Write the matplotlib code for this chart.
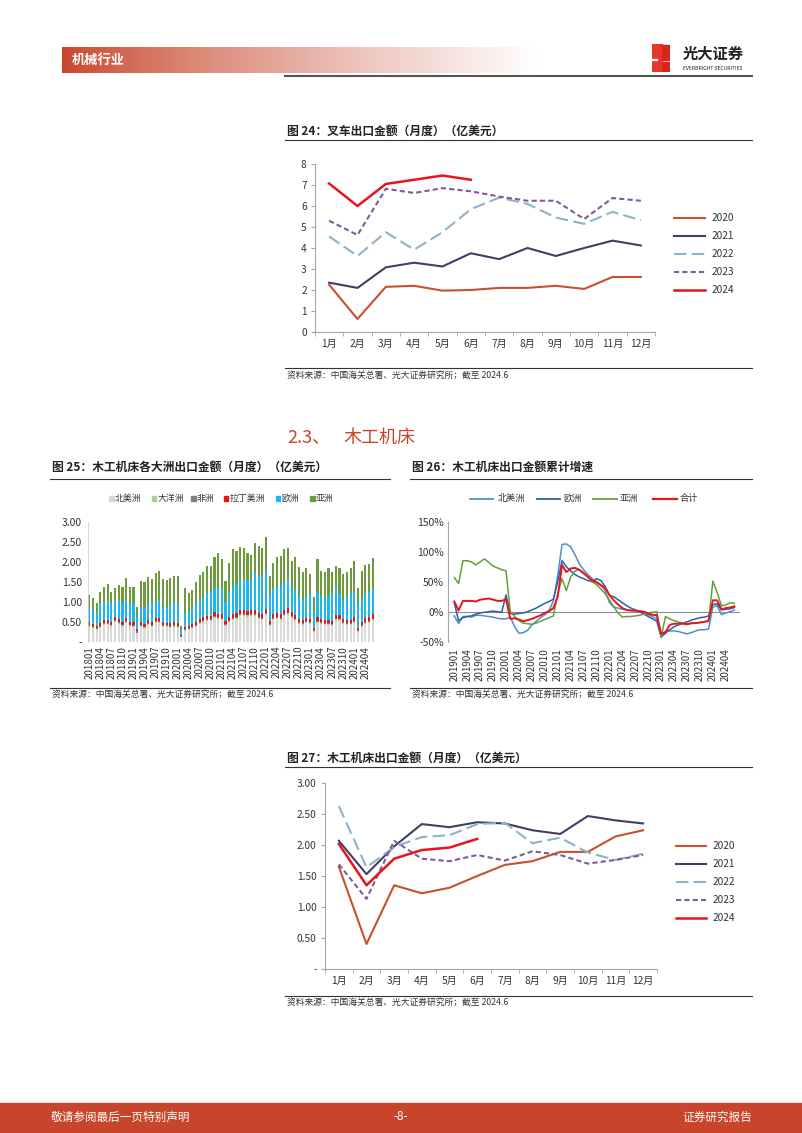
import matplotlib
matplotlib.use('Agg')
import matplotlib.pyplot as plt
from matplotlib.lines import Line2D
from matplotlib.patches import Rectangle
import numpy as np

plt.rcParams['font.family'] = ['Noto Sans CJK SC', 'DejaVu Sans']

# ---------------- data ----------------
months = ['1月', '2月', '3月', '4月', '5月', '6月', '7月', '8月', '9月', '10月', '11月', '12月']
years = ['2020', '2021', '2022', '2023', '2024']

# 图24 叉车出口金额（亿美元）
fork_2020 = [2.25, 0.62, 2.15, 2.20, 1.97, 2.00, 2.10, 2.10, 2.20, 2.05, 2.62, 2.62]
fork_2021 = [2.35, 2.10, 3.08, 3.30, 3.12, 3.75, 3.47, 4.00, 3.62, 4.00, 4.35, 4.12]
fork_2022 = [4.55, 3.62, 4.75, 3.92, 4.75, 5.85, 6.40, 6.10, 5.45, 5.15, 5.72, 5.32]
fork_2023 = [5.30, 4.62, 6.82, 6.62, 6.85, 6.70, 6.45, 6.25, 6.25, 5.38, 6.38, 6.25]
fork_2024 = [7.07, 6.00, 7.05, 7.25, 7.45, 7.25]

# 图27 木工机床出口金额（亿美元）
wood_2020 = [1.65, 0.40, 1.35, 1.22, 1.31, 1.50, 1.68, 1.74, 1.89, 1.89, 2.14, 2.24]
wood_2021 = [2.07, 1.53, 1.98, 2.34, 2.29, 2.37, 2.35, 2.24, 2.18, 2.47, 2.40, 2.35]
wood_2022 = [2.63, 1.64, 1.97, 2.13, 2.16, 2.34, 2.36, 2.03, 2.12, 1.88, 1.76, 1.86]
wood_2023 = [1.69, 1.13, 2.07, 1.78, 1.74, 1.84, 1.75, 1.90, 1.84, 1.70, 1.76, 1.84]
wood_2024 = [2.02, 1.35, 1.78, 1.92, 1.96, 2.10]

# 图25 各大洲出口金额 201801-202406（亿美元）
bar_months = [f'{y}{m:02d}' for y in range(2018, 2025) for m in range(1, 13)][:78]
cont_names = ['北美洲', '大洋洲', '非洲', '拉丁美洲', '欧洲', '亚洲']
north_america = [0.37, 0.33, 0.29, 0.35, 0.42, 0.41, 0.38, 0.49, 0.45, 0.38, 0.47, 0.38,
                 0.37, 0.21, 0.37, 0.33, 0.42, 0.37, 0.46, 0.47, 0.37, 0.36, 0.35, 0.37,
                 0.35, 0.11, 0.27, 0.29, 0.33, 0.37, 0.45, 0.48, 0.51, 0.51, 0.60, 0.56,
                 0.55, 0.39, 0.48, 0.55, 0.57, 0.64, 0.64, 0.63, 0.64, 0.64, 0.57, 0.55,
                 0.66, 0.39, 0.55, 0.57, 0.55, 0.64, 0.68, 0.60, 0.53, 0.44, 0.42, 0.46,
                 0.44, 0.24, 0.47, 0.44, 0.41, 0.41, 0.39, 0.53, 0.53, 0.44, 0.41, 0.41,
                 0.47, 0.24, 0.37, 0.45, 0.47, 0.53]
oceania = [0.03, 0.03, 0.03, 0.03, 0.03, 0.03, 0.03, 0.03, 0.03, 0.03, 0.03, 0.03,
           0.03, 0.02, 0.03, 0.03, 0.03, 0.03, 0.03, 0.03, 0.03, 0.03, 0.03, 0.03,
           0.03, 0.01, 0.03, 0.03, 0.03, 0.03, 0.03, 0.03, 0.03, 0.03, 0.03, 0.03,
           0.03, 0.03, 0.03, 0.03, 0.03, 0.03, 0.03, 0.03, 0.03, 0.03, 0.03, 0.03,
           0.03, 0.03, 0.03, 0.03, 0.03, 0.03, 0.03, 0.03, 0.03, 0.03, 0.03, 0.03,
           0.03, 0.02, 0.03, 0.03, 0.03, 0.03, 0.03, 0.03, 0.03, 0.03, 0.03, 0.03,
           0.03, 0.03, 0.03, 0.03, 0.03, 0.03]
africa = [0.02, 0.02, 0.02, 0.02, 0.02, 0.02, 0.02, 0.02, 0.02, 0.02, 0.02, 0.02,
          0.02, 0.03, 0.02, 0.02, 0.02, 0.02, 0.02, 0.02, 0.02, 0.02, 0.02, 0.02,
          0.02, 0.03, 0.02, 0.02, 0.02, 0.02, 0.02, 0.02, 0.02, 0.02, 0.02, 0.02,
          0.02, 0.02, 0.02, 0.02, 0.02, 0.02, 0.02, 0.02, 0.02, 0.02, 0.02, 0.02,
          0.02, 0.02, 0.02, 0.02, 0.02, 0.02, 0.02, 0.02, 0.02, 0.02, 0.02, 0.02,
          0.02, 0.03, 0.02, 0.02, 0.02, 0.02, 0.02, 0.02, 0.02, 0.02, 0.02, 0.02,
          0.02, 0.02, 0.02, 0.02, 0.02, 0.02]
latin_america = [0.08, 0.07, 0.06, 0.08, 0.08, 0.09, 0.07, 0.08, 0.08, 0.07, 0.08, 0.07,
                 0.08, 0.06, 0.08, 0.07, 0.08, 0.08, 0.09, 0.08, 0.08, 0.07, 0.08, 0.08,
                 0.08, 0.03, 0.06, 0.06, 0.07, 0.08, 0.08, 0.09, 0.09, 0.09, 0.10, 0.09,
                 0.10, 0.08, 0.09, 0.10, 0.10, 0.11, 0.11, 0.10, 0.11, 0.11, 0.10, 0.10,
                 0.11, 0.08, 0.10, 0.10, 0.10, 0.11, 0.12, 0.10, 0.10, 0.09, 0.08, 0.09,
                 0.09, 0.06, 0.10, 0.09, 0.09, 0.09, 0.08, 0.10, 0.10, 0.09, 0.09, 0.09,
                 0.10, 0.06, 0.08, 0.10, 0.10, 0.12]
europe = [0.35, 0.35, 0.32, 0.47, 0.45, 0.47, 0.48, 0.40, 0.47, 0.48, 0.48, 0.42,
          0.45, 0.30, 0.35, 0.40, 0.40, 0.45, 0.40, 0.45, 0.38, 0.37, 0.44, 0.50,
          0.47, 0.12, 0.34, 0.35, 0.37, 0.45, 0.47, 0.48, 0.57, 0.60, 0.60, 0.65,
          0.62, 0.48, 0.63, 0.70, 0.73, 0.75, 0.78, 0.77, 0.75, 0.95, 0.90, 0.95,
          0.96, 0.68, 0.62, 0.63, 0.70, 0.70, 0.70, 0.60, 0.62, 0.57, 0.50, 0.52,
          0.62, 0.40, 0.60, 0.57, 0.57, 0.60, 0.70, 0.67, 0.52, 0.47, 0.60, 0.67,
          0.63, 0.60, 0.55, 0.60, 0.63, 0.65]
asia = [0.32, 0.29, 0.24, 0.31, 0.37, 0.44, 0.28, 0.32, 0.38, 0.39, 0.51, 0.45,
        0.43, 0.26, 0.67, 0.66, 0.68, 0.63, 0.73, 0.72, 0.70, 0.70, 0.68, 0.65,
        0.70, 0.10, 0.63, 0.47, 0.49, 0.55, 0.63, 0.64, 0.67, 0.64, 0.79, 0.89,
        0.75, 0.53, 0.73, 0.94, 0.84, 0.82, 0.77, 0.69, 0.63, 0.72, 0.78, 0.70,
        0.85, 0.44, 0.65, 0.78, 0.76, 0.84, 0.81, 0.68, 0.82, 0.73, 0.71, 0.74,
        0.49, 0.38, 0.85, 0.63, 0.62, 0.69, 0.53, 0.55, 0.64, 0.65, 0.61, 0.62,
        0.77, 0.40, 0.73, 0.72, 0.71, 0.75]

# 图26 木工机床出口金额累计增速（%）201901-202406
growth_months = [f'{y}{m:02d}' for y in range(2019, 2025) for m in range(1, 13)][:66]
growth_names = ['北美洲', '欧洲', '亚洲', '合计']
g_north_america = [-7, -20, -8, -8, -9, -6, -6, -7, -8, -9, -11, -12,
                   -12, -9, -25, -36, -35, -31, -22, -16, -10, -5, 2, 18,
                   60, 112, 113, 108, 95, 80, 70, 62, 55, 50, 45, 35,
                   15, 8, 6, 4, 3, 2, 1, 0, -2, -5, -8, -12,
                   -42, -33, -32, -32, -33, -35, -37, -35, -32, -30, -30, -29,
                   8, 10, -5, -2, 0, 3]
g_europe = [15, -15, -10, -8, -7, -4, -2, -1, 0, 1, 0, -1,
            28, -3, -4, -3, -2, 0, 3, 6, 10, 14, 17, 21,
            50, 85, 75, 68, 62, 58, 55, 52, 50, 55, 52, 42,
            27, 25, 20, 15, 10, 6, 3, 0, -4, -8, -12, -16,
            -42, -36, -30, -25, -22, -19, -17, -14, -12, -10, -9, -7,
            12, 13, 3, 4, 5, 7]
g_asia = [57, 47, 85, 85, 83, 78, 83, 88, 82, 76, 73, 70,
          68, 0, -8, -15, -19, -20, -21, -19, -16, -13, -10, -7,
          30, 55, 35, 58, 68, 70, 65, 58, 50, 45, 38, 30,
          20, 8, -2, -9, -8, -8, -7, -6, -4, -2, -1, 0,
          -43, -8, -12, -15, -17, -19, -20, -20, -19, -18, -17, -16,
          51, 32, 10, 11, 15, 14]
g_total = [17, 2, 18, 18, 18, 17, 20, 21, 22, 20, 18, 18,
           21, -12, -11, -13, -16, -14, -12, -9, -6, -2, 1, 6,
           25, 78, 66, 72, 73, 70, 64, 58, 52, 49, 44, 40,
           28, 19, 12, 6, 3, 2, 2, 1, 0, -3, -5, -6,
           -37, -34, -22, -20, -20, -20, -21, -19, -19, -18, -17, -15,
           19, 19, 4, 6, 7, 9]

# ---------------- page ----------------
W, H = 802, 1133
fig = plt.figure(figsize=(W / 100, H / 100), dpi=100)


def fx(p):
    return p / W


def fy(p):
    return 1 - p / H


def axes_px(l, t, r, b, **kw):
    return fig.add_axes([fx(l), fy(b), (r - l) / W, (b - t) / H], **kw)


def hline(x0, x1, y, color='#333333', lw=0.8):
    fig.add_artist(Line2D([fx(x0), fx(x1)], [fy(y), fy(y)], color=color, lw=lw))


def text(x, y, s, **kw):
    kw.setdefault('va', 'center')
    fig.text(fx(x), fy(y), s, **kw)


RED = '#C8442A'
TXT = '#333333'
GRAY = '#A6A6A6'

# header band with gradient
hax = axes_px(62, 47, 540, 73)
grad = np.linspace(0, 1, 400) ** 0.8
c0 = np.array([200, 68, 42]) / 255
img = np.zeros((1, 400, 3))
for k in range(3):
    img[0, :, k] = c0[k] + (1 - c0[k]) * grad
hax.imshow(img, aspect='auto', extent=[0, 1, 0, 1])
hax.axis('off')
text(72, 60, '机械行业', color='white', fontsize=9.5, fontweight='bold')
hline(285, 752, 76, color='#555555', lw=1.5)

# logo
lax = axes_px(652, 44, 670, 72)
lax.set_xlim(0, 1)
lax.set_ylim(0, 1)
lax.axis('off')
lax.add_patch(Rectangle((0, 0), 0.55, 1, color='#E8352A'))
for yy in [0.0, 0.2, 0.4, 0.6, 0.8]:
    lax.add_patch(Rectangle((0.55, yy + 0.02), 0.4, 0.15, color='#D9261C'))
lax.add_patch(Rectangle((0.0, 0.42), 0.3, 0.05, color='white'))
text(683, 54, '光大证券', fontsize=11, fontweight='bold', color='#222222')
text(683, 68, 'EVERBRIGHT SECURITIES', fontsize=3.6, color='#222222')


def style_cat_axes(ax, ylim, yticks, yticklabels):
    for s in ['top', 'right']:
        ax.spines[s].set_visible(False)
    for s in ['left', 'bottom']:
        ax.spines[s].set_color(GRAY)
        ax.spines[s].set_linewidth(0.8)
    ax.set_xlim(-0.5, 11.5)
    ax.set_ylim(*ylim)
    ax.set_yticks(yticks)
    ax.set_yticklabels(yticklabels, fontsize=7.3, color=TXT)
    ax.set_xticks(range(12))
    ax.set_xticklabels(months, fontsize=7.3, color=TXT)
    ax.set_xticks(np.arange(-0.5, 12, 1), minor=True)
    ax.tick_params(axis='x', which='major', length=0, pad=5)
    ax.tick_params(axis='x', which='minor', length=3, color=GRAY)
    ax.tick_params(axis='y', length=3, color=GRAY, pad=3)
    ax.patch.set_alpha(0)


line_styles = [
    dict(color='#C9502E', lw=1.5, ls='-'),
    dict(color='#403E66', lw=1.5, ls='-'),
    dict(color='#8DB3C7', lw=1.5, ls=(0, (6, 2.5))),
    dict(color='#7D5C9C', lw=1.5, ls=(0, (2.5, 1.5))),
    dict(color='#E8141C', lw=1.8, ls='-'),
]


def manual_legend(x0, x1, xt, ys):
    for yy, st, name in zip(ys, line_styles, years):
        fig.add_artist(Line2D([fx(x0), fx(x1)], [fy(yy), fy(yy)], color=st['color'],
                              lw=st['lw'], ls=st['ls']))
        text(xt, yy, name, fontsize=7.3, color=TXT)


SRC = '资料来源：中国海关总署、光大证券研究所；截至 2024.6'

# ---------- 图24 ----------
text(287, 131, '图 24：叉车出口金额（月度）（亿美元）', fontsize=8.5, fontweight='bold', color='#222222')
hline(285, 752, 140)
ax = axes_px(315, 164, 655, 332)
for vals, st in zip([fork_2020, fork_2021, fork_2022, fork_2023, fork_2024], line_styles):
    ax.plot(range(len(vals)), vals, **st)
style_cat_axes(ax, (0, 8), range(0, 9), [str(v) for v in range(0, 9)])
manual_legend(674, 705, 712, [218, 236, 254, 272, 290])
hline(285, 752, 368)
text(287, 375, SRC, fontsize=6.3, color=TXT)

# ---------- section ----------
text(287, 438, '2.3、', fontsize=13, color=RED, fontweight='medium')
text(343, 438, '木工机床', fontsize=13, color=RED, fontweight='medium')

# ---------- 图25 ----------
text(52, 467, '图 25：木工机床各大洲出口金额（月度）（亿美元）', fontsize=8.5, fontweight='bold', color='#222222')
hline(50, 390, 479)
bar_colors = ['#D9D9D9', '#A9D08E', '#808080', '#E8141C', '#1FB6EE', '#6C9A3C']
ax = axes_px(87.5, 522.3, 374.5, 641.7)
idx = np.arange(len(bar_months))
bottom = np.zeros(len(bar_months))
for vals, c in zip([north_america, oceania, africa, latin_america, europe, asia], bar_colors):
    v = np.array(vals)
    ax.bar(idx, v, 0.58, bottom=bottom, color=c, linewidth=0)
    bottom = bottom + v
ax.set_xlim(-0.5, len(bar_months) - 0.5)
ax.set_ylim(0, 3)
ax.set_yticks([0, 0.5, 1, 1.5, 2, 2.5, 3])
ax.set_yticklabels(['-', '0.50', '1.00', '1.50', '2.00', '2.50', '3.00'], fontsize=7.5, color=TXT)
ax.set_xticks(idx[::3])
ax.set_xticklabels(bar_months[::3], rotation=90, fontsize=7, color=TXT)
ax.tick_params(axis='x', length=0, pad=3)
ax.tick_params(axis='y', length=0, pad=4)
for s in ['top', 'right', 'bottom']:
    ax.spines[s].set_visible(False)
ax.spines['left'].set_color('#D0D0D0')
ax.spines['left'].set_linewidth(0.6)
ax.patch.set_alpha(0)
leg_x = [111.5, 154.0, 193.5, 226.0, 278.0, 312.5]
for xx, c, name in zip(leg_x, bar_colors, cont_names):
    fig.add_artist(Rectangle((fx(xx - 2.2), fy(498.5 + 2.2)), 4.4 / W, 4.4 / H, color=c,
                             transform=fig.transFigure))
    text(xx + 3.5, 498.5, name, fontsize=6.4, color=TXT)
hline(50, 390, 688)
text(52, 694, SRC, fontsize=6.3, color=TXT)

# ---------- 图26 ----------
text(412, 467, '图 26：木工机床出口金额累计增速', fontsize=8.5, fontweight='bold', color='#222222')
hline(410, 752, 479)
g_colors = ['#4F8FCC', '#2F5DA8', '#6A9E3A', '#E8141C']
g_lw = [1.1, 1.1, 1.1, 1.4]
ax = axes_px(448, 521.7, 740, 641.7)
gi = np.arange(len(growth_months))
for vals, c, lw in zip([g_north_america, g_europe, g_asia, g_total], g_colors, g_lw):
    ax.plot(gi, vals, color=c, lw=lw)
ax.axhline(0, color='#8C8C8C', lw=0.8, zorder=0)
ax.set_xlim(-1.46, 66.3)
ax.set_ylim(-50, 150)
ax.set_yticks([-50, 0, 50, 100, 150])
ax.set_yticklabels(['-50%', '0%', '50%', '100%', '150%'], fontsize=7.5, color=TXT)
ax.set_xticks(gi[::3])
ax.set_xticklabels(growth_months[::3], rotation=90, fontsize=7, color=TXT)
ax.tick_params(axis='x', length=0, pad=5)
ax.tick_params(axis='y', length=0, pad=3)
for s in ['top', 'right', 'bottom']:
    ax.spines[s].set_visible(False)
ax.spines['left'].set_color(GRAY)
ax.spines['left'].set_linewidth(0.8)
ax.patch.set_alpha(0)
gl = [(470, 493, 498), (536.5, 560, 563), (593, 617, 620), (653, 677, 680)]
for (a, b, t), c, lw, name in zip(gl, g_colors, g_lw, growth_names):
    fig.add_artist(Line2D([fx(a), fx(b)], [fy(498.5), fy(498.5)], color=c, lw=lw + 0.2))
    text(t, 498.5, name, fontsize=6.6, color=TXT)
hline(410, 752, 688)
text(412, 694, SRC, fontsize=6.3, color=TXT)

# ---------- 图27 ----------
text(287, 758, '图 27：木工机床出口金额（月度）（亿美元）', fontsize=8.5, fontweight='bold', color='#222222')
hline(285, 752, 767)
ax = axes_px(325, 783.3, 657, 968.7)
for vals, st in zip([wood_2020, wood_2021, wood_2022, wood_2023, wood_2024], line_styles):
    ax.plot(range(len(vals)), vals, **st)
style_cat_axes(ax, (0, 3), [0, 0.5, 1, 1.5, 2, 2.5, 3],
               ['-', '0.50', '1.00', '1.50', '2.00', '2.50', '3.00'])
manual_legend(676, 706, 713, [846, 864, 882, 900, 918])
hline(285, 752, 996)
text(287, 1002, SRC, fontsize=6.3, color=TXT)

# ---------- footer ----------
fig.add_artist(Rectangle((0, 0), 1, (1133 - 1103) / H, color=RED, transform=fig.transFigure))
text(51, 1117, '敬请参阅最后一页特别声明', fontsize=8.4, color='white')
text(401, 1117, '-8-', fontsize=8.4, color='white', ha='center')
text(752, 1117, '证券研究报告', fontsize=8.4, color='white', ha='right')

fig.savefig('out.png', dpi=100)
